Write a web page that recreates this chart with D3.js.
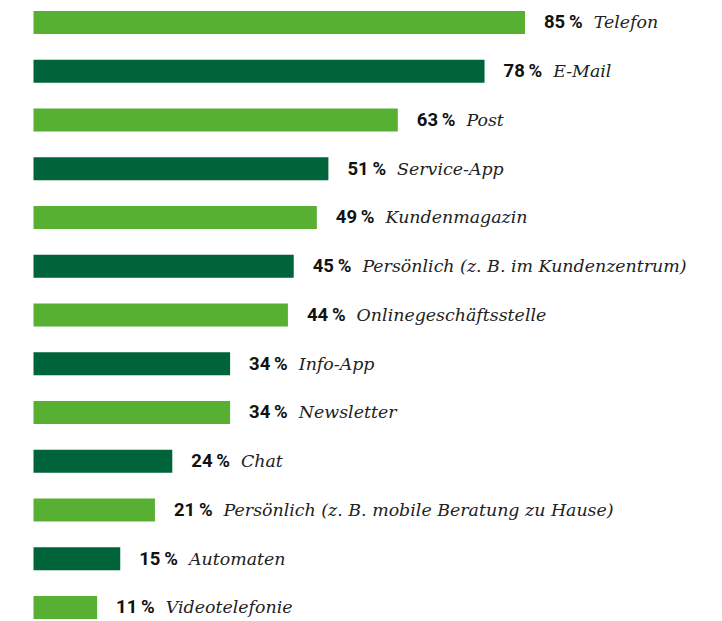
<!DOCTYPE html>
<html lang="de">
  <head>
    <meta charset="UTF-8" />
    <title>Kontaktkanäle</title>
    <script src="https://d3js.org/d3.v7.min.js"></script>
    <style>
      body {
        margin: 0;
        background: #fff;
      }
      .value {
        font-family: Roboto, "Noto Sans", sans-serif;
        font-weight: 700;
        font-size: 18.5px;
        fill: #111;
      }
      .name {
        font-family: "DejaVu Serif", serif;
        font-style: italic;
        font-size: 17.4px;
        fill: #222;
      }
    </style>
  </head>
  <body>
    <svg id="chart" width="722" height="621"></svg>

    <script>
      const categories = [
        "Telefon",
        "E-Mail",
        "Post",
        "Service-App",
        "Kundenmagazin",
        "Persönlich (z. B. im Kundenzentrum)",
        "Onlinegeschäftsstelle",
        "Info-App",
        "Newsletter",
        "Chat",
        "Persönlich (z. B. mobile Beratung zu Hause)",
        "Automaten",
        "Videotelefonie",
      ];
      const values = [85, 78, 63, 51, 49, 45, 44, 34, 34, 24, 21, 15, 11];
      const colors = ["#58b032", "#00643a"];

      const data = categories.map((c, i) => ({ name: c, value: values[i], i }));

      const svg = d3.select("#chart");

      const x = d3.scaleLinear().domain([0, 85]).range([33.5, 525]);

      const y = d3
        .scaleBand()
        .domain(categories)
        .range([11, 619])
        .paddingInner(0.528)
        .paddingOuter(0);

      // bars
      svg
        .selectAll(".bar")
        .data(data)
        .enter()
        .append("rect")
        .attr("class", "bar")
        .attr("x", x(0))
        .attr("y", (d) => y(d.name))
        .attr("width", (d) => x(d.value) - x(0))
        .attr("height", y.bandwidth())
        .attr("fill", (d) => colors[d.i % 2]);

      // labels: value + category
      const labels = svg
        .selectAll(".label")
        .data(data)
        .enter()
        .append("text")
        .attr("class", "label")
        .attr("x", (d) => x(d.value) + 19)
        .attr("y", (d) => y(d.name) + y.bandwidth() / 2)
        .attr("dy", "0.36em");

      labels
        .append("tspan")
        .attr("class", "value")
        .text((d) => d.value + "\u2009%");

      labels
        .append("tspan")
        .attr("class", "name")
        .attr("dx", 11)
        .text((d) => d.name);
    </script>
  </body>
</html>
